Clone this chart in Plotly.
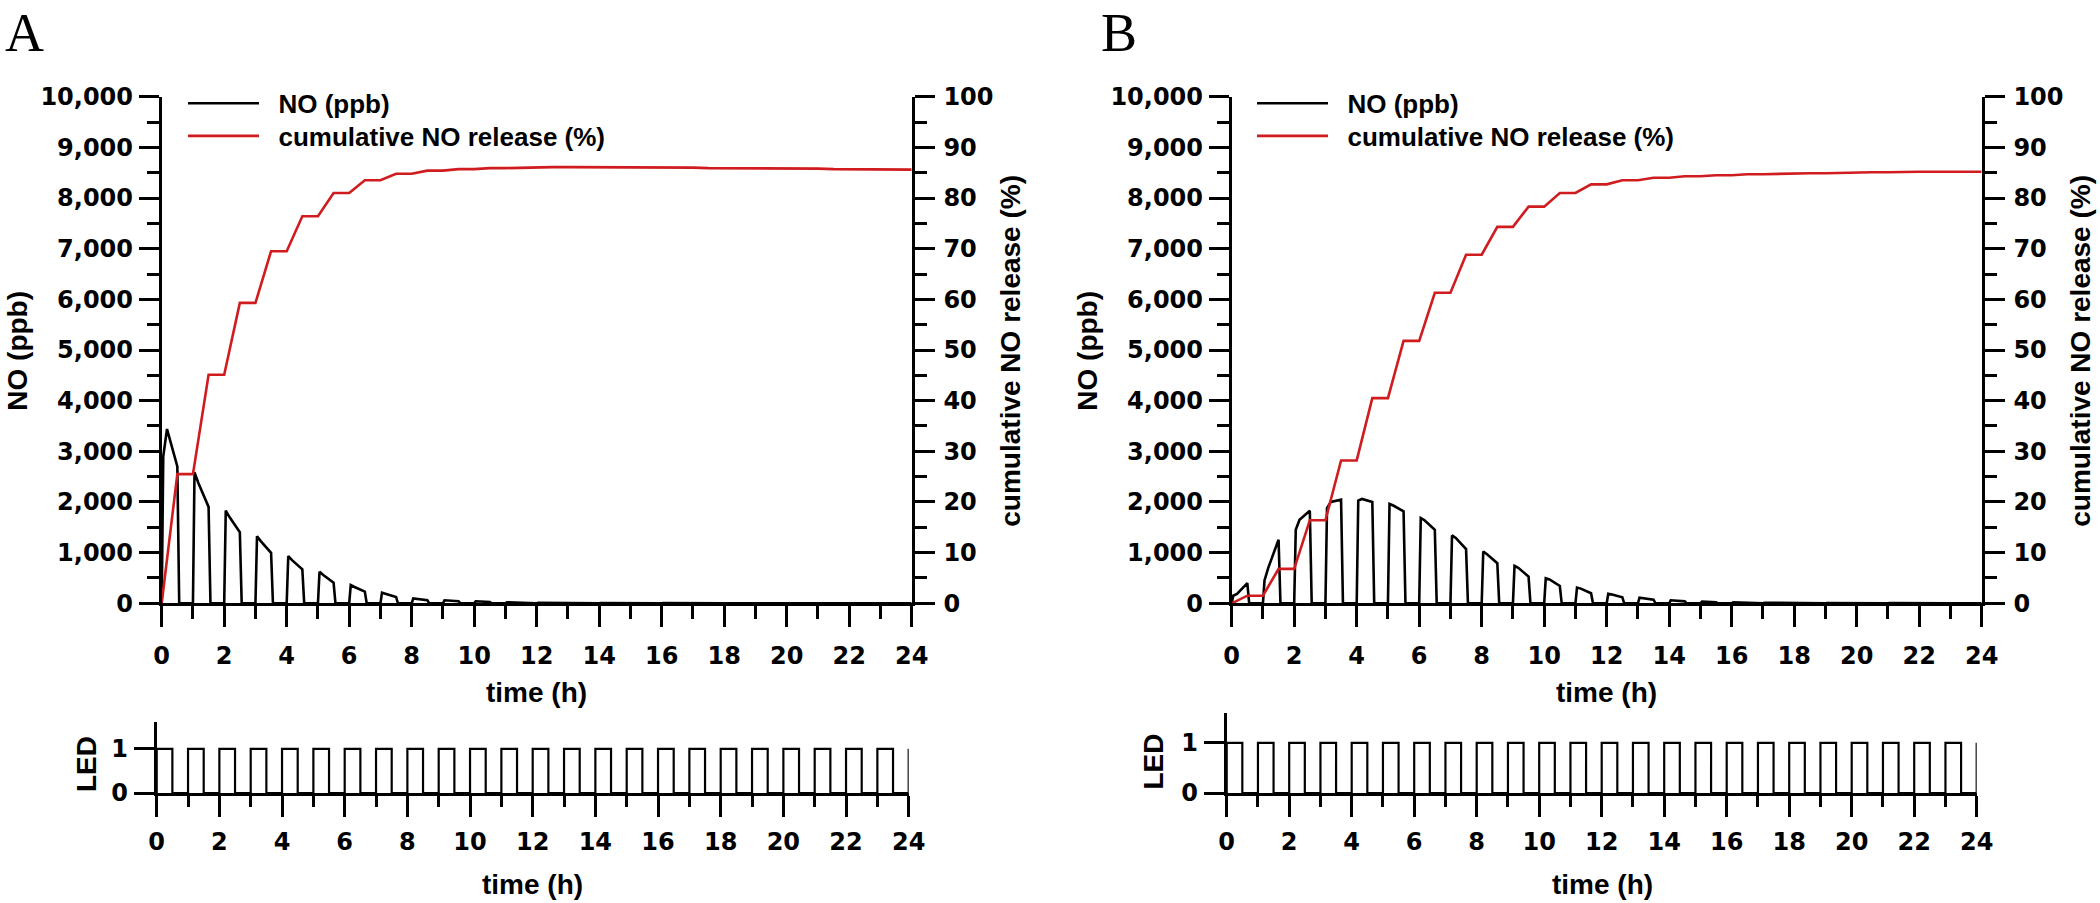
import plotly.graph_objects as go

W, H = 2100, 903

# ---------------- data ----------------
# LED switching times (h)
led_on = [0, 1, 2, 3, 4, 5, 6, 7, 8, 9, 10, 11, 12, 13, 14, 15, 16, 17, 18, 19, 20, 21, 22, 23]
led_off = [0.5, 1.5, 2.5, 3.5, 4.5, 5.5, 6.5, 7.5, 8.5, 9.5, 10.5, 11.5,
           12.5, 13.5, 14.5, 15.5, 16.5, 17.5, 18.5, 19.5, 20.5, 21.5, 22.5, 23.5]
led_final_on = 24

# sampling times inside each hourly pulse (h after LED on)
pulse_t = [0.0, 0.05, 0.17, 0.5, 0.56]

# Panel A: NO (ppb) at switch-on, ~10 min, end of LED window
no_a_rise = [2900, 2585, 1831, 1325, 932, 623, 361, 210, 98, 59, 40, 20, 12, 8, 5, 4, 3, 2, 2, 1, 1, 1, 1, 1]
no_a_mid = [3440, 2380, 1703, 1227, 853, 558, 322, 185, 86, 53, 36, 17, 11, 7, 4, 3, 2, 2, 1, 1, 1, 1, 1, 1]
no_a_end = [2700, 1903, 1404, 997, 669, 407, 230, 125, 59, 39, 26, 12, 8, 5, 3, 2, 1, 1, 1, 1, 1, 1, 1, 1]
# Panel A: cumulative NO release (%) after each pulse
cum_a = [25.5, 45.1, 59.3, 69.5, 76.4, 81.0, 83.5, 84.8, 85.4, 85.7, 85.9, 86.0,
         86.1, 86.1, 86.1, 86.0, 86.0, 85.9, 85.9, 85.8, 85.8, 85.7, 85.7, 85.6]

# Panel B
no_b_rise = [150, 450, 1452, 1881, 2026, 1960, 1683, 1340, 1023, 739, 495, 310, 190, 110, 60, 35, 20, 12, 8, 5, 4, 3, 2, 2]
no_b_mid = [185, 700, 1650, 2000, 2059, 1930, 1640, 1290, 970, 700, 470, 290, 175, 100, 55, 32, 18, 11, 7, 4, 3, 2, 2, 1]
no_b_end = [400, 1254, 1828, 2046, 2000, 1815, 1452, 1069, 792, 528, 343, 198, 120, 70, 38, 22, 12, 8, 5, 3, 2, 2, 1, 1]
cum_b = [1.5, 6.8, 16.4, 28.2, 40.5, 51.8, 61.3, 68.8, 74.3, 78.3, 81.0, 82.7,
         83.5, 84.0, 84.3, 84.5, 84.7, 84.8, 84.9, 85.0, 85.1, 85.2, 85.2, 85.2]

x_ticks = list(range(0, 25, 2))
no_ticks = list(range(0, 10001, 1000))
pct_ticks = list(range(0, 101, 10))
led_ticks = [0, 1]


def no_path(rise, mid, end):
    xs, ys = [], []
    for n, r, m, e in zip(led_on, rise, mid, end):
        xs += [n + t for t in pulse_t]
        ys += [0, r, m, e, 0]
    xs.append(24)
    ys.append(0)
    return xs, ys


def cum_path(cum):
    xs, ys = [0], [0]
    for n, off, c in zip(led_on, led_off, cum):
        xs += [off, n + 1]
        ys += [c, c]
    return xs, ys


def led_path():
    xs, ys = [], []
    for on, off in zip(led_on, led_off):
        xs += [on, on, off, off]
        ys += [0, 1, 1, 0]
    xs += [led_final_on, led_final_on]
    ys += [0, 1]
    return xs, ys


BLACK = "#000000"
RED = "#d01c1f"
TICKFONT = dict(family="DejaVu Sans", size=24, color=BLACK, weight="bold")
TITLEFONT = dict(family="Liberation Sans", size=28, color=BLACK, weight="bold")
LEGFONT = dict(family="Liberation Sans", size=26, color=BLACK, weight="bold")

fig = go.Figure()

panels = [
    dict(no=(no_a_rise, no_a_mid, no_a_end), cum=cum_a, xa="x", ya="y", ya2="y2", xl="x2", yl="y3",
         leg1="legend", leg2="legend2"),
    dict(no=(no_b_rise, no_b_mid, no_b_end), cum=cum_b, xa="x3", ya="y4", ya2="y5", xl="x4", yl="y6",
         leg1="legend3", leg2="legend4"),
]

for p in panels:
    xs, ys = no_path(*p["no"])
    fig.add_trace(go.Scatter(x=xs, y=ys, mode="lines", name="\u00a0\u00a0NO (ppb)",
                             line=dict(color=BLACK, width=2.6), xaxis=p["xa"], yaxis=p["ya"],
                             legend=p["leg1"]))
    xs, ys = cum_path(p["cum"])
    fig.add_trace(go.Scatter(x=xs, y=ys, mode="lines", name="\u00a0\u00a0cumulative NO release (%)",
                             line=dict(color=RED, width=2.6), xaxis=p["xa"], yaxis=p["ya2"],
                             legend=p["leg2"]))
    xs, ys = led_path()
    fig.add_trace(go.Scatter(x=xs, y=ys, mode="lines", showlegend=False,
                             line=dict(color=BLACK, width=2.2), xaxis=p["xl"], yaxis=p["yl"]))


def fx(px):
    return px / W


def fy(py):
    return 1 - py / H


AX = dict(showline=True, linecolor=BLACK, linewidth=2.8, ticks="outside", tickcolor=BLACK,
          tickwidth=2.8, showgrid=False, zeroline=False, tickfont=TICKFONT, fixedrange=True)


def minor(dt, ln):
    return dict(dtick=dt, tick0=0, ticklen=ln, tickwidth=2.8, tickcolor=BLACK, ticks="outside")


def xmain(domain, anchor):
    return dict(AX, domain=domain, anchor=anchor, range=[0, 24], tickvals=x_ticks, ticklen=21,
                minor=minor(1, 13), ticklabelstandoff=8)


def yleft(domain, anchor):
    return dict(AX, domain=domain, anchor=anchor, range=[0, 10000], tickvals=no_ticks, tickformat=",d",
                ticklen=20, minor=minor(500, 12), ticklabelstandoff=1)


def yright(over, anchor):
    return dict(AX, overlaying=over, anchor=anchor, side="right", range=[0, 100], tickvals=pct_ticks,
                ticklen=20, minor=minor(5, 12), ticklabelstandoff=4)


def xled(domain, anchor):
    return dict(AX, domain=domain, anchor=anchor, range=[0, 24], tickvals=x_ticks, ticklen=21,
                minor=minor(1, 11), ticklabelstandoff=4)


def yled(domain, anchor):
    return dict(AX, domain=domain, anchor=anchor, range=[0, 1.6], tickvals=led_ticks, ticklen=20,
                ticklabelstandoff=1)


main_y = [fy(603.3), fy(96.7)]
fig.update_layout(
    xaxis=xmain([fx(161.7), fx(911.7)], "y"),
    yaxis=yleft(main_y, "x"),
    yaxis2=yright("y", "x"),
    xaxis2=xled([fx(156.7), fx(908.7)], "y3"),
    yaxis3=yled([fy(793), fy(722.3)], "x2"),
    xaxis3=xmain([fx(1231.7), fx(1981.7)], "y4"),
    yaxis4=yleft(main_y, "x3"),
    yaxis5=yright("y4", "x3"),
    xaxis4=xled([fx(1226.7), fx(1976.7)], "y6"),
    yaxis6=yled([fy(793), fy(712.7)], "x4"),
)

leg = dict(bgcolor="rgba(0,0,0,0)", borderwidth=0, font=LEGFONT, itemwidth=71, xanchor="left",
           yanchor="middle", xref="paper", yref="paper")
fig.update_layout(
    legend=dict(leg, x=fx(183), y=fy(103.3)),
    legend2=dict(leg, x=fx(183), y=fy(136)),
    legend3=dict(leg, x=fx(1252), y=fy(103.3)),
    legend4=dict(leg, x=fx(1252), y=fy(136)),
)

annotations = []


def ann(text, x, y, angle=0, font=TITLEFONT, xanchor="center", yanchor="middle"):
    annotations.append(dict(text=text, x=fx(x), y=fy(y), xref="paper", yref="paper", showarrow=False,
                            textangle=angle, font=font, xanchor=xanchor, yanchor=yanchor))


for off in (0, 1070):
    ann("NO (ppb)", 18 + off, 350.7, -90)
    ann("cumulative NO release (%)", 1011 + off, 350.7, -90)
    ann("time (h)", 536.7 + off, 692)
    ann("time (h)", 532.7 + off, 884)
ann("LED", 86, 764, -90)
ann("LED", 1152.5, 762, -90)
PANELFONT = dict(family="Liberation Serif", size=54, color=BLACK)
ann("A", 3, 33, font=PANELFONT, xanchor="left")
ann("B", 1099, 33, font=PANELFONT, xanchor="left")

fig.update_layout(
    annotations=annotations,
    width=W, height=H,
    margin=dict(l=0, r=0, t=0, b=0, autoexpand=False),
    paper_bgcolor="white", plot_bgcolor="white",
    showlegend=True,
)

fig.write_html("out.html", config=dict(displayModeBar=False),
               post_script="document.body.style.margin='0';document.body.style.overflow='hidden';")
